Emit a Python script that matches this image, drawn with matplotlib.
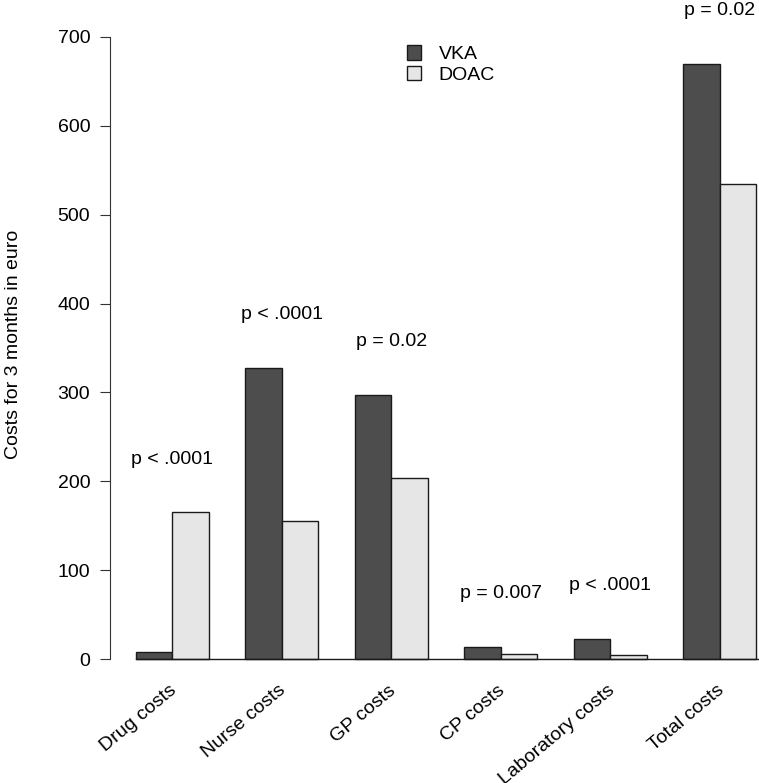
# Costs per category, VKA vs DOAC (3 months)
import matplotlib.pyplot as plt
from matplotlib.patches import Patch

plt.rcParams['font.family'] = ['Liberation Sans', 'DejaVu Sans']

# data
categorias = ['Drug costs', 'Nurse costs', 'GP costs', 'CP costs',
              'Laboratory costs', 'Total costs']
vka = [8, 328, 297, 14, 23, 670]
doac = [165, 155, 204, 5.5, 4.5, 534]
p_valores = ['p < .0001', 'p < .0001', 'p = 0.02', 'p = 0.007',
             'p < .0001', 'p = 0.02']
yticks = [0, 100, 200, 300, 400, 500, 600, 700]

cor_vka = '#4d4d4d'
cor_doac = '#e6e6e6'
fs = 14

W, H = 759, 783
fig = plt.figure(figsize=(W / 100, H / 100), dpi=100)
# plot region runs past the right edge, like the cropped original
x0, x1 = 0.28, 19.72
px_unit = 36.5
ax = fig.add_axes([109.7 / W, 1 - 684 / H, (x1 - x0) * px_unit / W, 672 / H])

n = len(categorias)
esq_vka = [1 + 3 * i for i in range(n)]
esq_doac = [2 + 3 * i for i in range(n)]
centros = [2 + 3 * i for i in range(n)]

ax.bar(esq_vka, vka, width=1, align='edge', color=cor_vka,
       edgecolor='#1a1a1a', linewidth=1)
ax.bar(esq_doac, doac, width=1, align='edge', color=cor_doac,
       edgecolor='#1a1a1a', linewidth=1)
ax.plot([1, 3 * n + 1], [0, 0], color='#1a1a1a', lw=1, zorder=3)

ax.set_xlim(x0, x1)
ax.set_ylim(-28, 728)

# p-values above each group
for c, a, b, p in zip(centros, vka, doac, p_valores):
    ax.text(c, max(a, b) + 60, p, ha='center', va='center',
            fontsize=fs, clip_on=False)

# rotated category labels
ax.set_xticks([])
for c, nome in zip(centros, categorias):
    ax.text(c + 0.05, -33, nome, rotation=40, ha='right', va='center',
            rotation_mode='anchor', fontsize=fs, clip_on=False)

# y axis in the R style
for s in ['top', 'right', 'bottom']:
    ax.spines[s].set_visible(False)
ax.spines['left'].set_bounds(0, 700)
ax.spines['left'].set_color('#333333')
ax.set_yticks(yticks)
ax.tick_params(axis='y', length=7, pad=7, labelsize=fs, color='#333333')
ax.set_ylabel('Costs for 3 months in euro', fontsize=fs)
ax.yaxis.set_label_coords(-0.124, 0.505)

handles = [Patch(facecolor=cor_vka, edgecolor='#1a1a1a', label='VKA'),
           Patch(facecolor=cor_doac, edgecolor='#1a1a1a', label='DOAC')]
fig.legend(handles=handles, loc='upper left', frameon=False,
           bbox_to_anchor=(389 / W, 1 - 28 / H), fontsize=fs,
           handlelength=0.75, handleheight=0.75, handletextpad=0.9,
           labelspacing=0.12)

fig.savefig('out.png', dpi=100)
